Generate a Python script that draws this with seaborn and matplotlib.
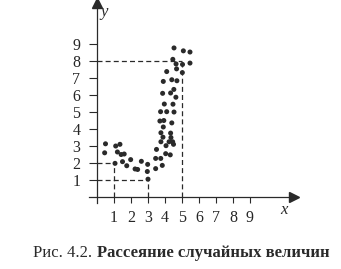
import matplotlib
matplotlib.use("Agg")
import matplotlib.pyplot as plt
import seaborn as sns
import pandas as pd

sns.set_style("white")
plt.rcParams["font.family"] = ["Liberation Serif", "DejaVu Serif"]

# Scatter data
x_vals = [0.50, 0.45, 1.10, 1.35, 1.20, 1.42, 1.60, 1.50, 1.06, 1.75, 1.98, 2.24, 2.39,
          2.61, 2.98, 2.96, 3.00,
          3.45, 3.45, 3.50, 3.75, 3.84, 3.76, 3.76, 3.70, 3.74, 3.96, 4.10, 3.93, 3.90,
          3.88, 4.06, 4.04, 4.31, 4.24, 4.33, 4.40, 4.47, 4.53, 4.35, 4.45, 4.50,
          3.86, 4.33, 4.52, 4.64, 3.90, 4.40, 4.70, 4.10, 4.68, 5.02, 4.46, 4.65,
          5.03, 5.47, 4.53, 5.08, 5.47]
y_vals = [3.13, 2.60, 3.00, 3.10, 2.65, 2.50, 2.53, 2.08, 1.98, 1.84, 2.20, 1.65, 1.62,
          2.10, 1.92, 1.50, 1.05,
          2.27, 1.67, 2.80, 2.27, 1.86, 3.25, 3.78, 4.47, 5.02, 5.47, 5.02, 4.50, 4.12,
          3.52, 3.02, 2.55, 2.48, 3.25, 3.76, 4.36, 5.46, 5.00, 3.50, 3.25, 3.10,
          6.10, 6.12, 6.33, 5.87, 6.80, 6.90, 6.84, 7.38, 7.54, 7.32, 8.10, 7.83,
          7.80, 7.88, 8.77, 8.60, 8.53]

# Reference (dashed) guides: (x, y) pairs
guide_x = [1, 3, 5]
guide_y = [2, 1, 8]

x_ticks = [1, 2, 3, 4, 5, 6, 7, 8, 9]
y_ticks = [1, 2, 3, 4, 5, 6, 7, 8, 9]

caption_plain = "Рис. 4.2."
caption_bold = "Рассеяние случайных величин"

df = pd.DataFrame({"x": x_vals, "y": y_vals})

W, H = 341, 269
fig = plt.figure(figsize=(W / 100, H / 100), dpi=100)
ax = fig.add_axes([71.5 / W, (H - 222.5) / H, 229.5 / W, 223.5 / H])

ink = "#2a2a2a"

sns.scatterplot(data=df, x="x", y="y", ax=ax, s=13, color=ink,
                edgecolor="none", linewidth=0, zorder=3)

for gx, gy in zip(guide_x, guide_y):
    ax.plot([0, gx], [gy, gy], ls=(0, (4, 2.5)), color=ink, lw=0.9)
    ax.plot([gx, gx], [0, gy], ls=(0, (4, 2.5)), color=ink, lw=0.9)

ax.set_xlim(-1.5, 12)
ax.set_ylim(-1.5, 11.65)

for s in ["top", "right"]:
    ax.spines[s].set_visible(False)
ax.spines["left"].set_position(("data", 0))
ax.spines["bottom"].set_position(("data", 0))
ax.spines["left"].set_bounds(-0.35, 11.3)
ax.spines["bottom"].set_bounds(-0.5, 11.5)
for s in ["left", "bottom"]:
    ax.spines[s].set_color(ink)
    ax.spines[s].set_linewidth(0.9)

ax.plot(11.6, 0, marker=">", color=ink, markersize=7, clip_on=False)
ax.plot(0, 11.4, marker="^", color=ink, markersize=7, clip_on=False)

ax.set_xticks(x_ticks)
ax.set_yticks(y_ticks)
ax.tick_params(axis="x", direction="out", length=4, width=0.8, color=ink,
               labelsize=11.5, pad=5, bottom=True)
ax.tick_params(axis="y", direction="out", length=6, width=0.8, color=ink,
               labelsize=11.5, pad=6, left=True)
ax.set_xlabel("")
ax.set_ylabel("")

ax.text(11.0, -0.75, "x", style="italic", fontsize=12, ha="center", va="center", color=ink)
ax.text(0.4, 10.9, "y", style="italic", fontsize=12, ha="center", va="center", color=ink)

fig.text(92 / W, 1 - 253 / H, caption_plain, ha="right", va="center",
         fontsize=12, color=ink)
fig.text(97 / W, 1 - 253 / H, caption_bold, ha="left", va="center",
         fontsize=12, fontweight="bold", color=ink)

fig.savefig("out.png", dpi=100, facecolor="white")
